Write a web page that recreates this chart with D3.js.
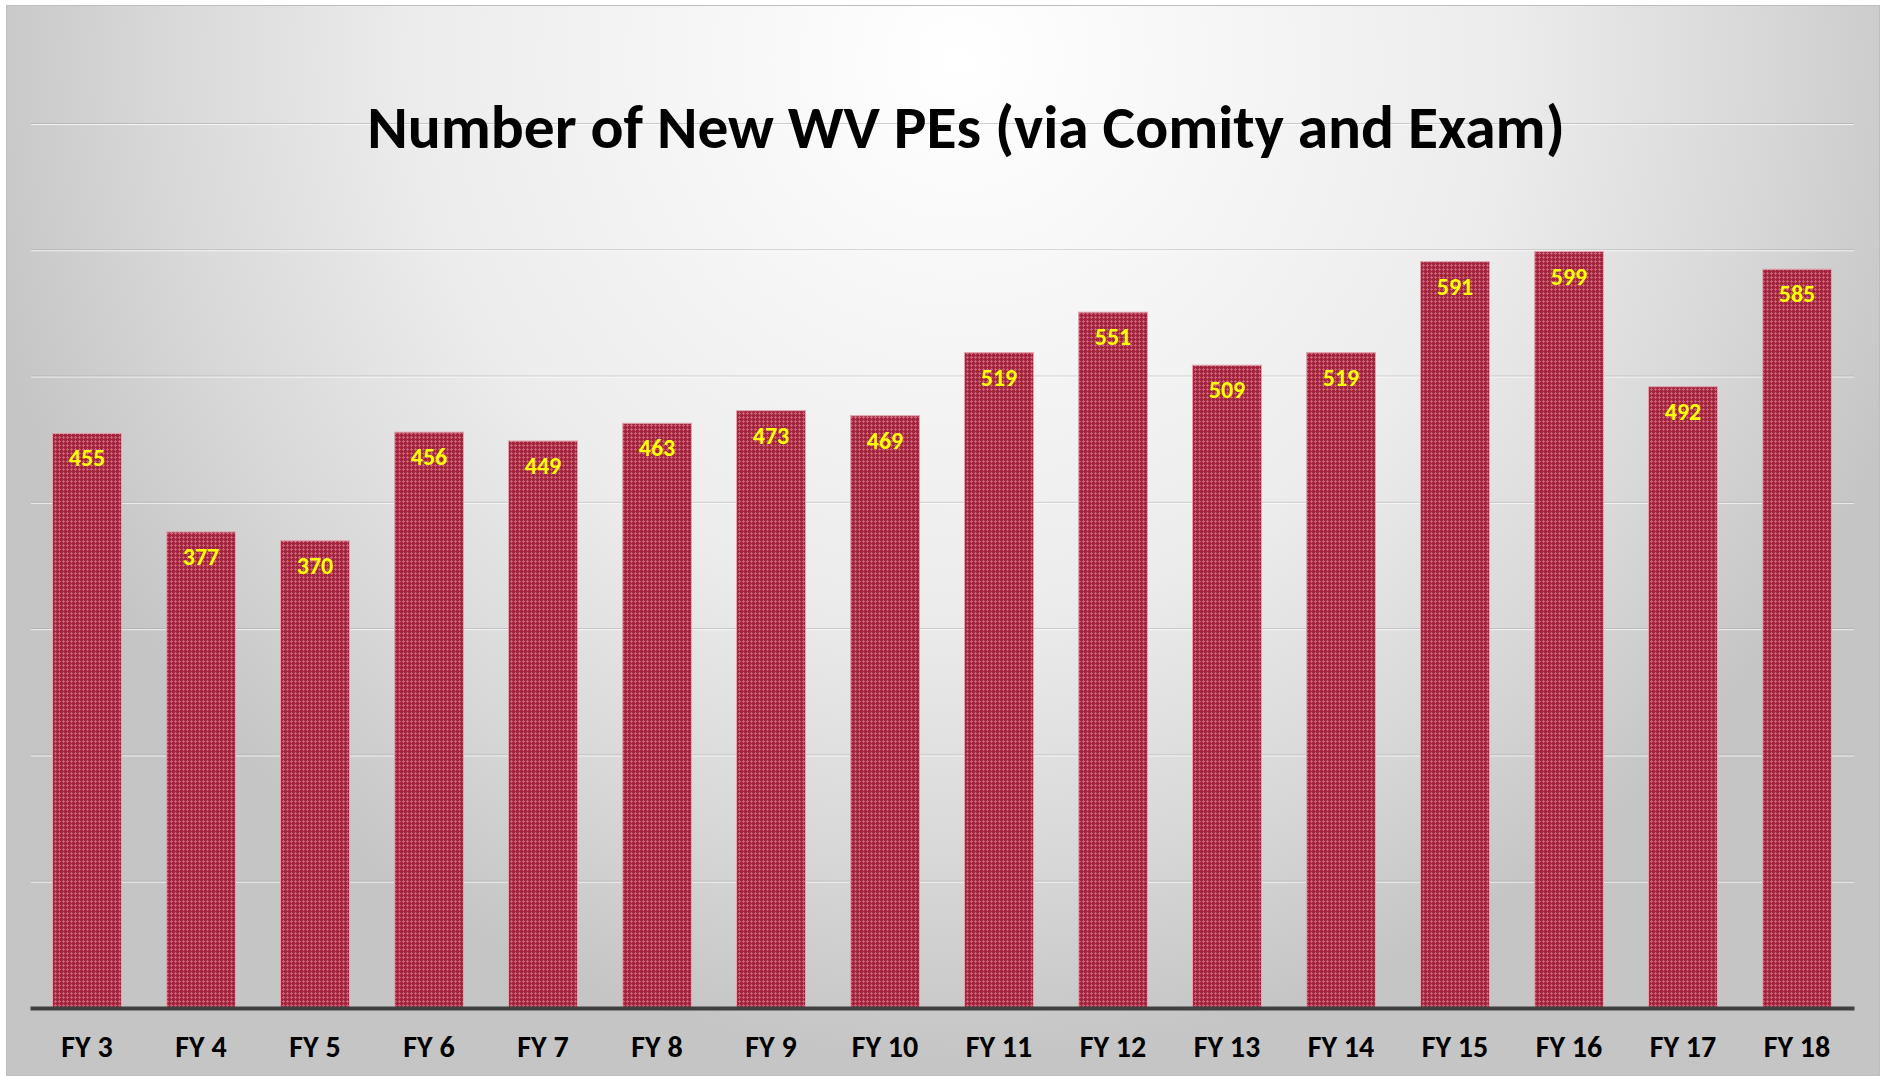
<!DOCTYPE html>
<html>
<head>
<meta charset="utf-8">
<script src="https://cdn.jsdelivr.net/npm/d3@7"></script>
<style>
  body { margin: 0; background: #ffffff; }
  text { font-family: Carlito, Calibri, "Open Sans", sans-serif; font-weight: bold; }
</style>
</head>
<body>
<div id="chart"></div>
<script>
const categories = ["FY 3", "FY 4", "FY 5", "FY 6", "FY 7", "FY 8", "FY 9", "FY 10",
    "FY 11", "FY 12", "FY 13", "FY 14", "FY 15", "FY 16", "FY 17", "FY 18"]
const newPEs = [455, 377, 370, 456, 449, 463, 473, 469, 519, 551, 509, 519, 591, 599, 492, 585]
const yTicks = [0, 100, 200, 300, 400, 500, 600, 700]
const title = "Number of New WV PEs (via Comity and Exam)"

const width = 1889
const height = 1076
const margin = { top: 124, left: 30, bottom: 68, right: 35 }
const iwidth = width - margin.left - margin.right
const iheight = height - margin.top - margin.bottom

const svg = d3.select("#chart").append("svg")
    .attr("width", width)
    .attr("height", height)

const defs = svg.append("defs")

// soft radial background like the office chart style
const bg = defs.append("radialGradient")
    .attr("id", "bg")
    .attr("gradientUnits", "userSpaceOnUse")
    .attr("cx", 960).attr("cy", 60).attr("r", 1000)
bg.selectAll("stop")
    .data([[0, "#ffffff"], [0.55, "#ececec"], [0.8, "#d8d8d8"], [1, "#c5c5c5"]])
    .join("stop")
    .attr("offset", d => d[0])
    .attr("stop-color", d => d[1])

// small cross-hatch fill for the bars
const pat = defs.append("pattern")
    .attr("id", "hatch")
    .attr("patternUnits", "userSpaceOnUse")
    .attr("width", 4).attr("height", 4)
pat.append("rect").attr("width", 4).attr("height", 4).attr("fill", "#a4243e")
pat.append("rect").attr("x", 1).attr("y", 0).attr("width", 1).attr("height", 3).attr("fill", "#c96478")
pat.append("rect").attr("x", 0).attr("y", 1).attr("width", 3).attr("height", 1).attr("fill", "#c96478")

svg.append("rect")
    .attr("x", 6.5).attr("y", 5.5)
    .attr("width", 1873).attr("height", 1070)
    .attr("fill", "url(#bg)")
    .attr("stroke", "#bdbdbd")

const g = svg.append("g")
    .attr("transform", `translate(${margin.left}, ${margin.top})`)

const x = d3.scaleBand()
    .domain(categories)
    .range([0, iwidth])
    .paddingInner(0.395)
    .paddingOuter(0.1975)

const y = d3.scaleLinear()
    .domain([0, 700])
    .range([iheight, 0])

// gridlines: grey line with a light edge under it
const grid = g.append("g")
grid.selectAll("line.dark")
    .data(yTicks.slice(1))
    .join("line")
    .attr("class", "dark")
    .attr("x1", 1).attr("x2", iwidth)
    .attr("y1", d => y(d) - 0.5).attr("y2", d => y(d) - 0.5)
    .attr("stroke", "#9a9a9a").attr("stroke-opacity", 0.45)
grid.selectAll("line.light")
    .data(yTicks.slice(1))
    .join("line")
    .attr("class", "light")
    .attr("x1", 1).attr("x2", iwidth)
    .attr("y1", d => y(d) + 0.5).attr("y2", d => y(d) + 0.5)
    .attr("stroke", "#ffffff").attr("stroke-opacity", 0.75)

g.selectAll("rect.bar")
    .data(newPEs)
    .join("rect")
    .attr("class", "bar")
    .attr("x", (d, i) => x(categories[i]))
    .attr("y", d => y(d))
    .attr("width", x.bandwidth())
    .attr("height", d => iheight - y(d))
    .attr("fill", "url(#hatch)")
    .attr("stroke", "#e2a4ae")
    .attr("stroke-width", 1)

g.selectAll("text.val")
    .data(newPEs)
    .join("text")
    .attr("class", "val")
    .attr("x", (d, i) => x(categories[i]) + x.bandwidth() / 2)
    .attr("y", d => y(d) + 33)
    .attr("text-anchor", "middle")
    .attr("font-size", 24)
    .attr("fill", "#ffff00")
    .text(d => d)

const xAxis = g.append("g")
    .attr("transform", `translate(0, ${iheight})`)
    .call(d3.axisBottom(x).tickSize(0).tickPadding(49))
xAxis.select(".domain")
    .attr("stroke", "#404040")
    .attr("stroke-width", 4)
xAxis.selectAll("text")
    .attr("font-size", 30)
    .attr("fill", "#000000")
    .attr("dy", "0")

svg.append("text")
    .attr("x", 966)
    .attr("y", 148)
    .attr("text-anchor", "middle")
    .attr("font-size", 61.5)
    .attr("fill", "#000000")
    .text(title)
</script>
</body>
</html>
